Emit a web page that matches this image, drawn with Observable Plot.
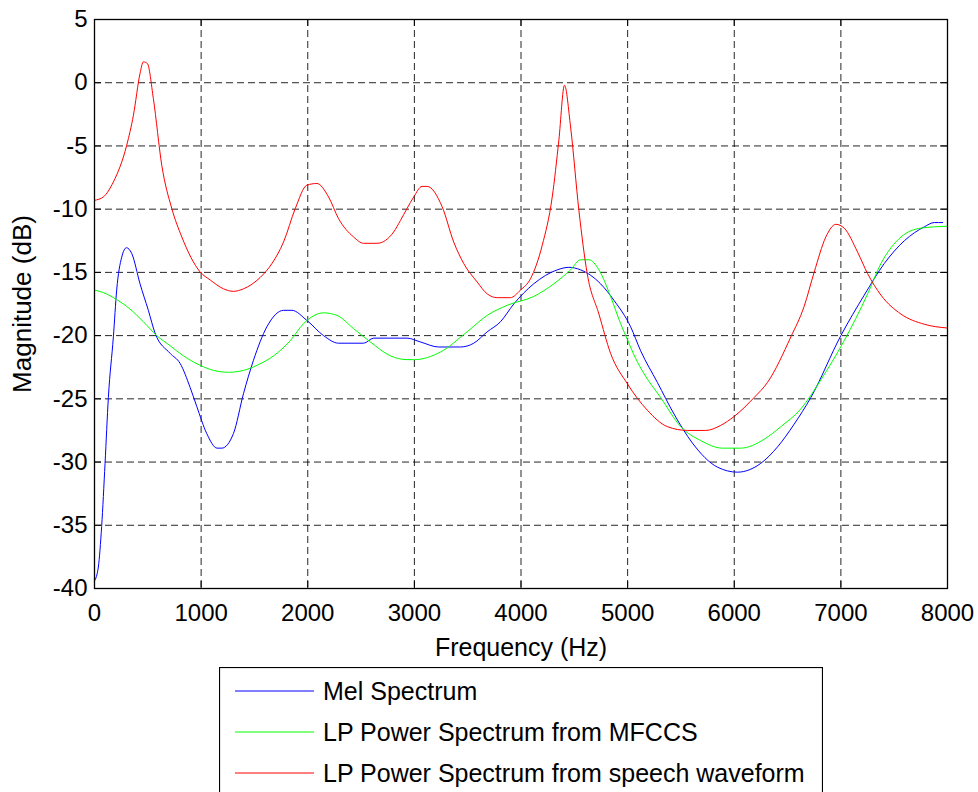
<!DOCTYPE html>
<html>
<head>
<meta charset="utf-8">
<script src="https://cdn.jsdelivr.net/npm/d3@7"></script>
<script src="https://cdn.jsdelivr.net/npm/@observablehq/plot@0.6"></script>
<style>
  html, body { margin: 0; padding: 0; background: #fff; overflow: hidden; }
  #chart svg { display: block; }
  #legend { margin-left: 219px; margin-top: 7px; }
</style>
</head>
<body>
<div id="chart"></div>
<div id="legend"></div>
<script>
// ---- Data ----
const seriesNames = ["Mel Spectrum", "LP Power Spectrum from MFCCS", "LP Power Spectrum from speech waveform"];
const seriesColors = ["#0000ff", "#00ff00", "#ff0000"];

const melFreq = [0,36,67,99,130,177,208,255,300,349,427,505,568,709,803,897,959,1053,1150,1194,1303,1397,1491,1617,1773,1851,1992,2148,2289,2524,2618,2931,3056,3228,3432,3557,3683,3808,3932,4120,4340,4449,4559,4746,4871,5028,5122,5279,5435,5608,5842,6030,6249,6406,6562,6718,7000,7219,7407,7595,7782,7876,7955];
const melDb = [-39.4,-38.3,-35.1,-30.1,-24.9,-20.1,-16.4,-13.8,-13.05,-13.5,-15.9,-18.0,-19.8,-21.4,-22.2,-24.1,-25.6,-27.75,-28.9,-28.9,-27.75,-24.6,-21.95,-19.3,-18.0,-18.0,-18.8,-20.0,-20.6,-20.6,-20.2,-20.2,-20.5,-20.9,-20.9,-20.6,-19.7,-18.9,-17.5,-15.9,-14.8,-14.6,-14.8,-15.9,-17.2,-19.3,-21.2,-23.7,-26.2,-28.5,-30.4,-30.8,-30.1,-28.8,-27.0,-24.9,-20.0,-16.8,-14.3,-12.5,-11.4,-11.06,-11.06];

const mfccFreq = [0,83,208,333,458,584,709,834,991,1116,1256,1397,1523,1679,1836,1961,2148,2274,2430,2587,2775,2931,3000,3244,3495,3683,3871,4120,4308,4465,4559,4637,4731,4840,4934,4997,5075,5153,5310,5498,5685,5889,6061,6280,6437,6624,6812,7031,7251,7376,7564,7751,8000];
const mfccDb = [-16.4,-16.6,-17.15,-17.9,-18.9,-20.0,-20.8,-21.6,-22.35,-22.75,-22.9,-22.75,-22.35,-21.6,-20.4,-19.05,-18.2,-18.4,-19.45,-20.5,-21.6,-21.9,-21.9,-21.3,-19.7,-18.4,-17.6,-16.9,-15.9,-14.8,-14.0,-14.0,-14.8,-16.9,-19.05,-20.3,-21.8,-23.0,-24.9,-27.2,-28.3,-28.9,-28.9,-28.2,-27.2,-25.8,-23.5,-20.4,-16.7,-14.3,-12.2,-11.5,-11.35];

const speechFreq = [0,83,177,302,365,427,458,496,552,631,725,819,991,1085,1210,1303,1397,1554,1664,1773,1883,1992,2086,2195,2289,2430,2524,2650,2806,2869,2931,2994,3072,3120,3260,3369,3463,3589,3683,3777,3901,3995,4089,4199,4293,4355,4408,4465,4543,4621,4731,4840,4997,5185,5373,5561,5732,5873,5998,6186,6312,6531,6655,6749,6859,6953,7031,7157,7251,7376,7564,7782,8000];
const speechDb = [-9.3,-9.03,-7.85,-4.95,-2.57,0.73,1.65,1.52,-1.25,-6.53,-9.95,-12.2,-14.97,-15.6,-16.3,-16.5,-16.3,-15.4,-14.3,-12.6,-9.95,-8.1,-7.97,-9.03,-10.75,-12.2,-12.7,-12.7,-11.8,-10.9,-9.95,-9.03,-8.2,-8.2,-9.8,-12.6,-14.3,-15.76,-16.7,-17.0,-17.0,-16.4,-15.5,-12.86,-9.03,-4.55,-0.2,-3.5,-10.1,-15.1,-18.3,-21.4,-23.8,-25.9,-27.2,-27.5,-27.5,-27.1,-26.4,-24.9,-23.7,-20.1,-17.7,-15.0,-12.2,-11.2,-11.5,-13.4,-15.1,-16.8,-18.3,-19.1,-19.4];

const xTicks = [0,1000,2000,3000,4000,5000,6000,7000,8000];
const yTicks = [5,0,-5,-10,-15,-20,-25,-30,-35,-40];
const xLabel = "Frequency (Hz)";
const yLabel = "Magnitude (dB)";

// ---- Tables built from the arrays ----
const toRows = (fs, vs) => fs.map((f, i) => ({f, v: vs[i]}));
const series = [toRows(melFreq, melDb), toRows(mfccFreq, mfccDb), toRows(speechFreq, speechDb)];

// ---- Layout ----
const W = 978, H = 660;
const mL = 94, mR = 31, mT = 19, mB = 72;
const plotW = W - mL - mR, plotH = H - mT - mB;
const tickLen = 7;
const font = "'Liberation Sans', Arial, Helvetica, sans-serif";
const fmt = d => String(d);

const marks = [
  Plot.gridX(xTicks, {stroke: "#000", strokeOpacity: 0.85, strokeDasharray: "7,4", strokeWidth: 1}),
  Plot.gridY(yTicks, {stroke: "#000", strokeOpacity: 0.85, strokeDasharray: "7,4", strokeWidth: 1}),
  // inward ticks on all four sides
  Plot.tickX(xTicks, {x: d => d, stroke: "#000", insetTop: plotH - tickLen}),
  Plot.tickX(xTicks, {x: d => d, stroke: "#000", insetBottom: plotH - tickLen}),
  Plot.tickY(yTicks, {y: d => d, stroke: "#000", insetRight: plotW - tickLen}),
  Plot.tickY(yTicks, {y: d => d, stroke: "#000", insetLeft: plotW - tickLen}),
  ...series.map((rows, i) => Plot.line(rows, {x: "f", y: "v", stroke: seriesColors[i], strokeWidth: 1, curve: "monotone-x"})),
  Plot.frame({stroke: "#000", strokeWidth: 1.3}),
  Plot.axisX(xTicks, {tickSize: 0, tickPadding: 15, tickFormat: fmt, fontSize: 24, label: null}),
  Plot.axisY(yTicks, {tickSize: 0, tickPadding: 7, tickFormat: fmt, fontSize: 24, label: null}),
  Plot.text([xLabel], {frameAnchor: "bottom", dy: 59, textAnchor: "middle", lineAnchor: "middle", fontSize: 25, fill: "#000"}),
  Plot.text([yLabel], {frameAnchor: "left", dx: -72, rotate: -90, textAnchor: "middle", lineAnchor: "middle", fontSize: 26, fill: "#000"})
];

const chart = Plot.plot({
  width: W, height: H,
  marginLeft: mL, marginRight: mR, marginTop: mT, marginBottom: mB,
  x: {domain: [0, 8000], axis: null},
  y: {domain: [-40, 5], axis: null},
  style: {fontFamily: font, fontSize: "24px", color: "#000", background: "#fff", overflow: "visible"},
  marks
});
document.getElementById("chart").appendChild(chart);

// ---- Legend (below the SVG) ----
const LW = 604, LH = 140;
const lsvg = d3.select("#legend").append("svg")
  .attr("width", LW).attr("height", LH)
  .style("display", "block")
  .style("font-family", font);
lsvg.append("rect").attr("x", 0.5).attr("y", 0.5).attr("width", LW - 1).attr("height", LH - 1)
  .attr("fill", "#fff").attr("stroke", "#000").attr("stroke-width", 1.2);
const rowY = [24, 65, 106];
const items = lsvg.selectAll("g.item").data(seriesNames).join("g")
  .attr("transform", (d, i) => `translate(0,${rowY[i]})`);
items.append("line").attr("x1", 16).attr("x2", 95).attr("y1", 0).attr("y2", 0)
  .attr("stroke", (d, i) => seriesColors[i]).attr("stroke-width", 1);
items.append("text").attr("x", 104).attr("y", 9).attr("font-size", 25).attr("fill", "#000").text(d => d);
</script>
</body>
</html>
